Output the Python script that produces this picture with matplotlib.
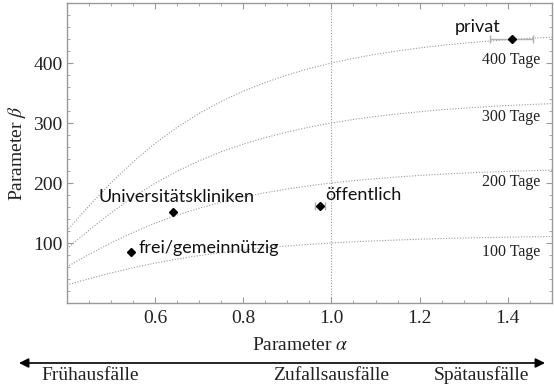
import matplotlib.pyplot as plt
from matplotlib.ticker import MultipleLocator

plt.rcParams["mathtext.fontset"] = "stix"

# hospital groups: Weibull shape alpha, scale beta
groups = ["Universitätskliniken", "frei/gemeinnützig", "öffentlich", "privat"]
alpha = [0.642, 0.546, 0.974, 1.409]
beta = [151, 84.5, 161.5, 440]
alpha_err = [0.0, 0.0, 0.011, 0.049]

# label anchors (left/center) for the groups
label_alpha = [0.471, 0.562, 0.985, 1.280]
label_beta = [177, 92, 180, 460]

# iso-lines of equal mean lifetime
curve_alpha = [0.40, 0.45, 0.50, 0.55, 0.60, 0.65, 0.70, 0.75, 0.80, 0.85, 0.90, 0.95,
               1.00, 1.05, 1.10, 1.15, 1.20, 1.25, 1.30, 1.35, 1.40, 1.45, 1.50]
beta_100 = [30.1, 40.3, 50.0, 58.7, 66.5, 73.2, 79.0, 84.0, 88.3, 91.9, 95.0, 97.7,
            100, 102.0, 103.6, 105.0, 106.3, 107.4, 108.3, 109.0, 109.7, 110.3, 110.8]
beta_200 = [60.2, 80.6, 100, 117.4, 132.9, 146.4, 157.9, 168.0, 176.5, 183.7, 190.0, 195.4,
            200, 203.9, 207.2, 210.1, 212.6, 214.7, 216.5, 218.1, 219.4, 220.5, 221.6]
beta_300 = [90.3, 121.0, 150, 176.2, 199.4, 219.5, 236.9, 252.0, 264.8, 275.6, 285.0, 293.1,
            300, 305.9, 310.9, 315.1, 318.8, 322.1, 324.8, 327.1, 329.1, 330.8, 332.3]
beta_400 = [120.4, 161.3, 200, 234.9, 265.8, 292.7, 315.9, 336.0, 353.0, 367.5, 380.0, 390.8,
            400, 407.8, 414.5, 420.2, 425.1, 429.5, 433.0, 436.1, 438.8, 441.1, 443.1]
curves = [beta_100, beta_200, beta_300, beta_400]
curve_labels = ["100 Tage", "200 Tage", "300 Tage", "400 Tage"]
curve_label_beta = [85, 202, 310, 405]

regions = ["Frühausfälle", "Zufallsausfälle", "Spätausfälle"]

W, H = 554, 384
fig = plt.figure(figsize=(W / 100, H / 100), dpi=100)
ax = fig.add_axes([66.7 / W, 1 - 303 / H, (552 - 66.7) / W, 300 / H])

serif = "Liberation Serif"
sans = "Lato"
grey = "#999999"

for c in curves:
    ax.plot(curve_alpha, c, color=grey, linestyle=(0, (1, 1.5)), linewidth=0.8)
for lab, b in zip(curve_labels, curve_label_beta):
    ax.text(1.473, b, lab, ha="right", va="center", family=serif, fontsize=11.5, color="#222222")

ax.axvline(1.0, color=grey, linestyle=(0, (1, 1.5)), linewidth=0.8)

ax.errorbar(alpha, beta, xerr=alpha_err, fmt="D", color="black", markersize=4.5,
            ecolor="#b0b0b0", elinewidth=1, capsize=3, capthick=1)
for name, la, lb in zip(groups, label_alpha, label_beta):
    ax.text(la, lb, name, ha="left", va="center", family=sans, fontsize=13, color="#111111")

ax.set_xlim(0.4, 1.5)
ax.set_ylim(0, 500)
ax.xaxis.set_minor_locator(MultipleLocator(0.05))
ax.yaxis.set_minor_locator(MultipleLocator(20))
ax.set_yticks([100, 200, 300, 400])
ax.set_xticks([0.6, 0.8, 1.0, 1.2, 1.4])
ax.set_xticklabels(["0.6", "0.8", "1.0", "1.2", "1.4"])
ax.tick_params(which="both", direction="in", top=True, right=True, color=grey,
               labelsize=14, labelcolor="#222222")
ax.tick_params(which="major", length=4, width=0.8)
ax.tick_params(which="minor", length=2, width=0.6)
ax.tick_params(axis="x", pad=5)
ax.tick_params(axis="y", pad=3)
for lbl in ax.get_xticklabels() + ax.get_yticklabels():
    lbl.set_family(serif)
for s in ax.spines.values():
    s.set_color(grey)
    s.set_linewidth(1)

ax.set_ylabel(r"Parameter $\beta$", family=serif, fontsize=14, color="#222222", labelpad=4)
fig.text(300 / W, 1 - 346 / H, r"Parameter $\alpha$", ha="center", va="center",
         family=serif, fontsize=14, color="#222222")

y_arrow = 1 - 363 / H
fig.add_artist(plt.Annotation("", xy=(545 / W, y_arrow), xytext=(19 / W, y_arrow),
                              xycoords="figure fraction", textcoords="figure fraction",
                              arrowprops=dict(arrowstyle="<|-|>", color="black", lw=1.2,
                                              mutation_scale=14, shrinkA=0, shrinkB=0)))
for name, xc in zip(regions, [90, 331, 481]):
    fig.text(xc / W, 1 - 375 / H, name, ha="center", va="center", family=serif,
             fontsize=14, color="#222222")

fig.savefig("out.png", dpi=100, facecolor="white")
